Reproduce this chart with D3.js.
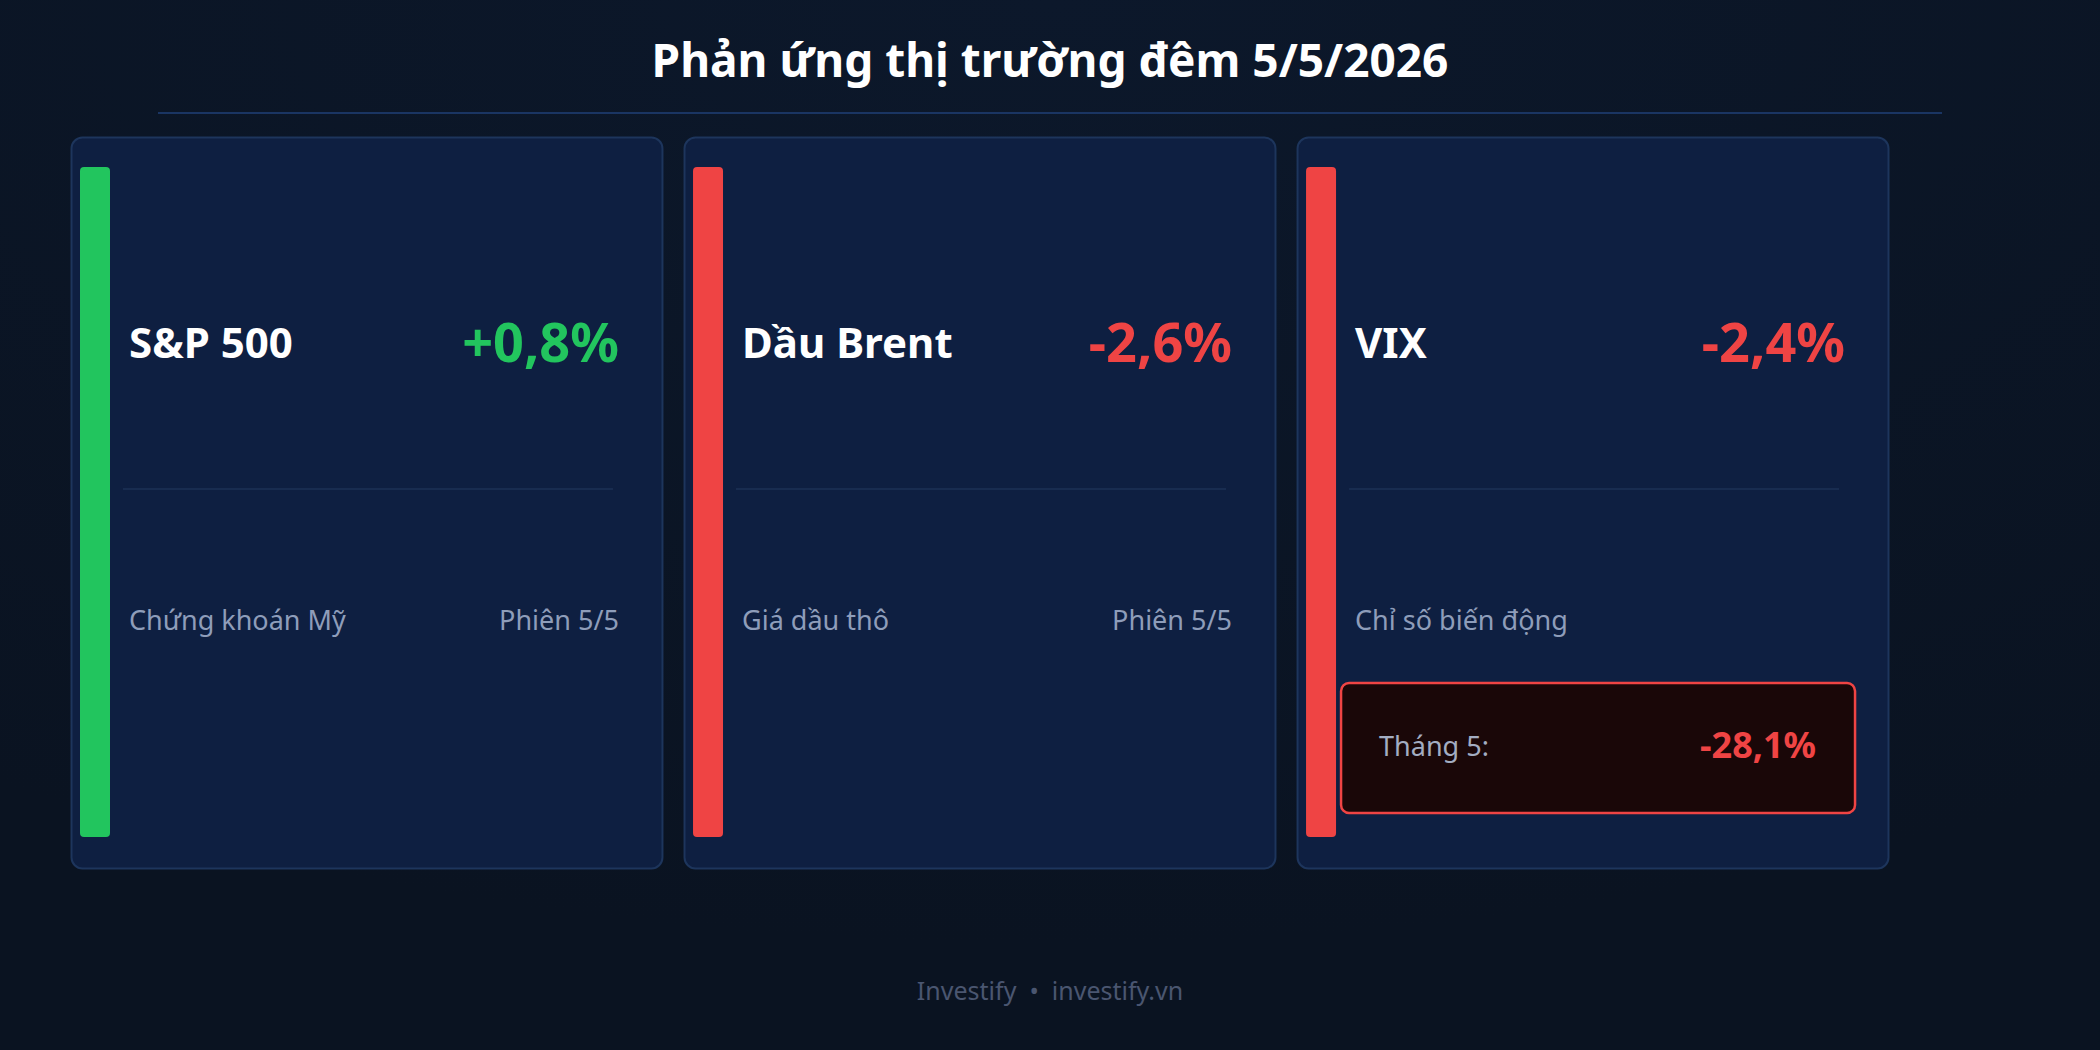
<!DOCTYPE html>
<html>
<head>
<meta charset="utf-8">
<script src="https://cdn.jsdelivr.net/npm/d3@7"></script>
<style>
  html, body { margin: 0; padding: 0; background: #0a1424; }
  svg { display: block; font-family: "Noto Sans", "Open Sans", sans-serif; }
</style>
</head>
<body>
<svg id="chart"></svg>
<script>
const width = 2100
const height = 1050

// data
const titleText = "Phản ứng thị trường đêm 5/5/2026"
const names = ["S&P 500", "Dầu Brent", "VIX"]
const changes = [0.8, -2.6, -2.4]
const subtitles = ["Chứng khoán Mỹ", "Giá dầu thô", "Chỉ số biến động"]
const sessions = ["Phiên 5/5", "Phiên 5/5", ""]
const extraLabels = [null, null, "Tháng 5:"]
const extraValues = [null, null, -28.1]
const footerText = "Investify  •  investify.vn"

const up = "#22c55e", down = "#ef4444"

// vietnamese style: comma decimal, plain hyphen for minus
const vi = d3.formatLocale({ decimal: ",", thousands: ".", grouping: [3], currency: ["", "đ"], minus: "-" })
const fmt = v => vi.format("+.1f")(v) + "%"

const cards = names.map((n, i) => ({
    name: n, change: changes[i], sub: subtitles[i], session: sessions[i],
    extraLabel: extraLabels[i], extraValue: extraValues[i]
}))

const svg = d3.select("#chart").attr("width", width).attr("height", height)

const defs = svg.append("defs")
const bg = defs.append("radialGradient").attr("id", "bg")
    .attr("cx", "50%").attr("cy", "0%").attr("r", "90%")
bg.append("stop").attr("offset", "0%").attr("stop-color", "#0c182b")
bg.append("stop").attr("offset", "100%").attr("stop-color", "#0a1321")

svg.append("rect").attr("width", width).attr("height", height).attr("fill", "url(#bg)")

// title
svg.append("text")
    .attr("x", width / 2).attr("y", 77)
    .attr("text-anchor", "middle")
    .attr("font-size", 46).attr("font-weight", 700)
    .attr("fill", "#ffffff")
    .text(titleText)

svg.append("line")
    .attr("x1", 158).attr("x2", 1942)
    .attr("y1", 113).attr("y2", 113)
    .attr("stroke", "#1a3563").attr("stroke-width", 2)

// card positions
const x = d3.scaleBand().domain(names).range([71, 1888]).paddingInner(0.036)
const cardTop = 137, cardH = 731

const g = svg.selectAll(".card").data(cards).enter()
    .append("g").attr("class", "card")
    .attr("transform", d => `translate(${x(d.name)},${cardTop})`)

const w = x.bandwidth()

g.append("rect")
    .attr("x", 0.5).attr("y", 0.5)
    .attr("width", w).attr("height", cardH)
    .attr("rx", 11)
    .attr("fill", "#0e1f41")
    .attr("stroke", "#1d355c").attr("stroke-width", 2)

g.append("rect")
    .attr("x", 9).attr("y", 30)
    .attr("width", 30).attr("height", 670)
    .attr("rx", 4)
    .attr("fill", d => d.change >= 0 ? up : down)

g.append("text")
    .attr("x", 58).attr("y", 221)
    .attr("font-size", 42).attr("font-weight", 700)
    .attr("fill", "#ffffff")
    .text(d => d.name)

g.append("text")
    .attr("x", w - 43).attr("y", 225)
    .attr("text-anchor", "end")
    .attr("font-size", 54).attr("font-weight", 700)
    .attr("fill", d => d.change >= 0 ? up : down)
    .text(d => fmt(d.change))

g.append("line")
    .attr("x1", 52).attr("x2", w - 49)
    .attr("y1", 352).attr("y2", 352)
    .attr("stroke", "#1d3256").attr("stroke-width", 1.5)

g.append("text")
    .attr("x", 58).attr("y", 493)
    .attr("font-size", 27)
    .attr("fill", "#8e9dba")
    .text(d => d.sub)

g.append("text")
    .attr("x", w - 43).attr("y", 493)
    .attr("text-anchor", "end")
    .attr("font-size", 27)
    .attr("fill", "#8e9dba")
    .text(d => d.session)

// monthly box (VIX only)
const box = g.filter(d => d.extraLabel != null)
box.append("rect")
    .attr("x", 44).attr("y", 546)
    .attr("width", 514).attr("height", 130)
    .attr("rx", 8)
    .attr("fill", "#1a0708")
    .attr("stroke", down).attr("stroke-width", 2.5)
box.append("text")
    .attr("x", 82).attr("y", 619)
    .attr("font-size", 27)
    .attr("fill", "#a3adc2")
    .text(d => d.extraLabel)
box.append("text")
    .attr("x", 519).attr("y", 621)
    .attr("text-anchor", "end")
    .attr("font-size", 36).attr("font-weight", 700)
    .attr("fill", down)
    .text(d => fmt(d.extraValue))

// footer
svg.append("text")
    .attr("x", width / 2).attr("y", 1000)
    .attr("text-anchor", "middle")
    .attr("font-size", 25)
    .attr("fill", "#4a5670")
    .style("white-space", "pre")
    .text(footerText)
</script>
</body>
</html>
